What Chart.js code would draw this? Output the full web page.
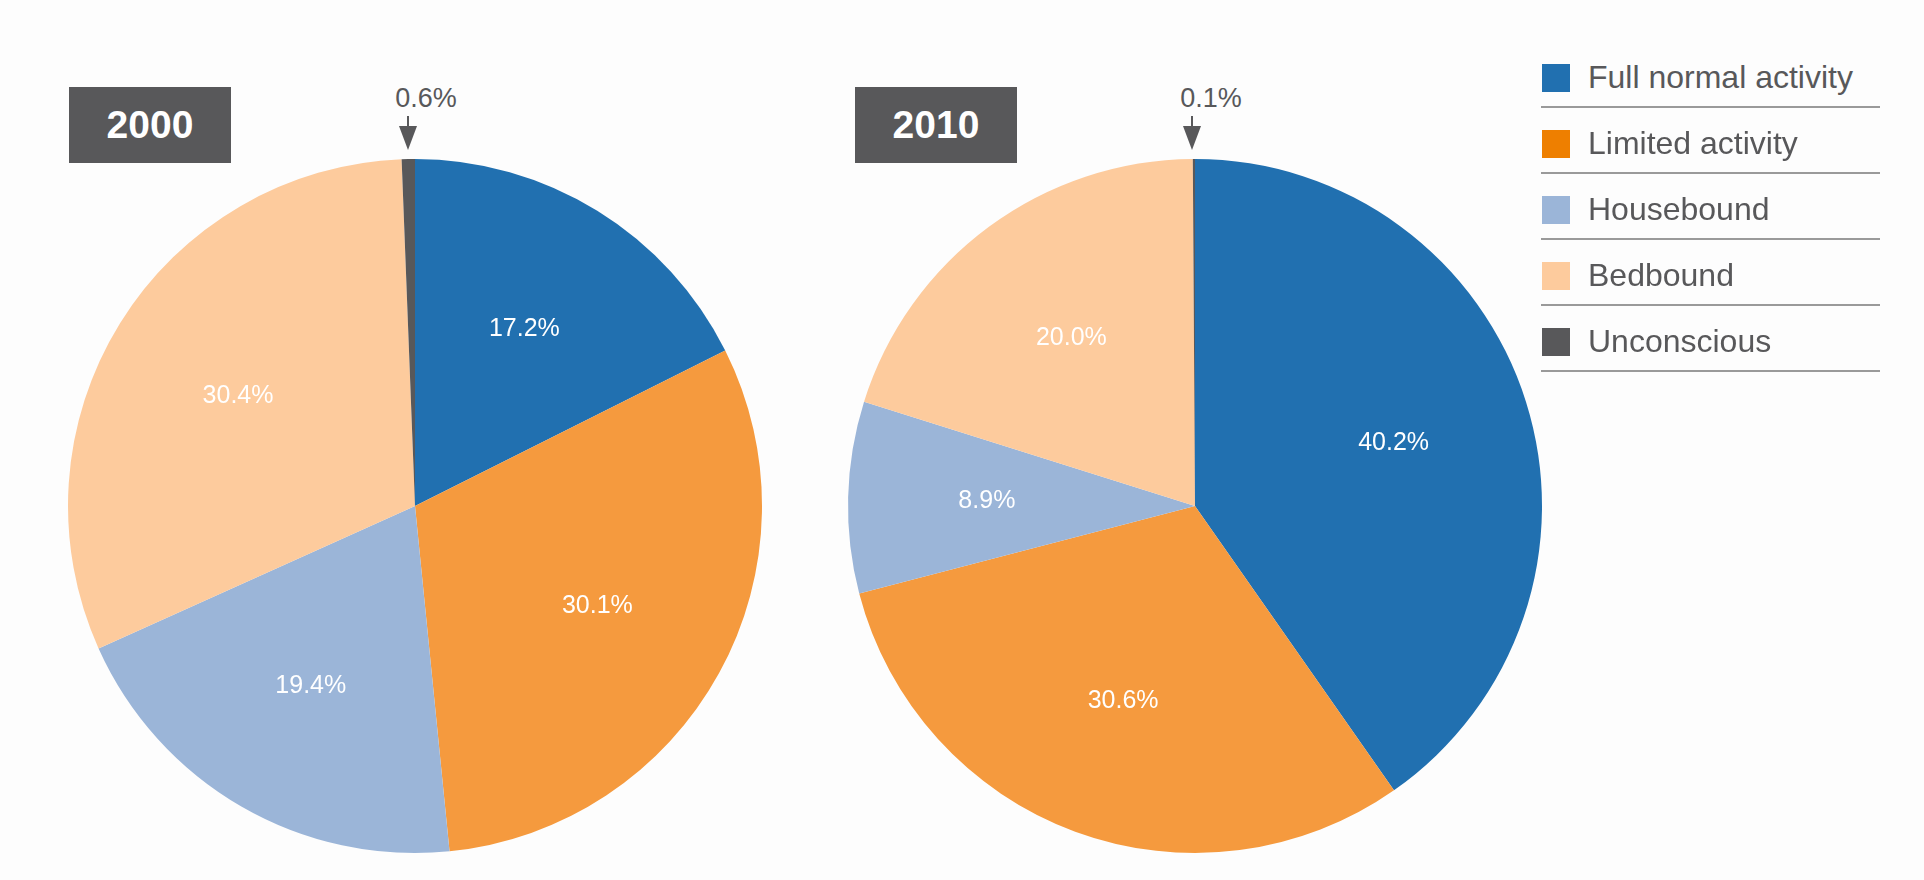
<!DOCTYPE html>
<html><head><meta charset="utf-8">
<script src="https://cdn.jsdelivr.net/npm/chart.js@4.4.0/dist/chart.umd.min.js"></script>
<style>
body{margin:0;background:#fdfdfd;width:1924px;height:880px;position:relative;overflow:hidden;font-family:"Liberation Sans",Arial,sans-serif;color:#58585a}
canvas{position:absolute}
.yr{position:absolute;top:87px;width:162px;height:76px;background:#58585a;color:#fff;font-weight:bold;font-size:39px;line-height:76px;text-align:center}
.small{position:absolute;font-size:27px;transform:translateX(-50%);top:83px}
.arrow{position:absolute;width:0;height:0;border-left:9px solid transparent;border-right:9px solid transparent;border-top:24px solid #58585a;top:126px}
.stem{position:absolute;width:2px;background:#58585a;top:116px;height:12px}
.leg{position:absolute;left:1541px;width:339px;height:66px;border-bottom:2px solid #9a9a9a}
.leg span.sq{position:absolute;left:1px;top:24px;width:28px;height:28px}
.leg span.t{position:absolute;left:47px;top:19px;font-size:32px}
</style></head><body>
<div class="yr" style="left:69px">2000</div>
<div class="yr" style="left:855px">2010</div>
<div class="small" style="left:426px">0.6%</div>
<div class="stem" style="left:407px"></div><div class="arrow" style="left:399px"></div>
<div class="small" style="left:1211px">0.1%</div>
<div class="stem" style="left:1191px"></div><div class="arrow" style="left:1183px"></div>
<canvas id="c1" width="700" height="700" style="left:65px;top:156px"></canvas>
<canvas id="c2" width="700" height="700" style="left:845px;top:156px"></canvas>
<div id="legend"></div>
<script>
const categories=["Full normal activity","Limited activity","Housebound","Bedbound","Unconscious"];
const values2000=[17.2,30.1,19.4,30.4,0.6];
const values2010=[40.2,30.6,8.9,20.0,0.1];
const sliceColors=["#2170b0","#f59a3e","#9bb5d8","#fdcb9d","#58585a"];
const legendColors=["#2170b0","#ee7f00","#9bb5d8","#fdcb9d","#58585a"];
const lg=document.getElementById('legend');
categories.forEach((c,i)=>{const d=document.createElement('div');d.className='leg';d.style.top=(40+i*66)+'px';
d.innerHTML='<span class="sq" style="background:'+legendColors[i]+'"></span><span class="t">'+c+'</span>';lg.appendChild(d);});
const labelPlugin={id:'lbl',afterDatasetsDraw(chart){const ctx=chart.ctx;const meta=chart.getDatasetMeta(0);const vals=chart.data.datasets[0].data;
ctx.save();ctx.fillStyle='#fff';ctx.font='25px "Liberation Sans", Arial';ctx.textAlign='center';ctx.textBaseline='middle';
meta.data.forEach((a,i)=>{if(vals[i]<1)return;const m=(a.startAngle+a.endAngle)/2;const r=a.outerRadius*0.6;
ctx.fillText(vals[i].toFixed(1)+'%',a.x+Math.cos(m)*r,a.y+Math.sin(m)*r);});ctx.restore();}};
function make(id,vals){new Chart(document.getElementById(id),{type:'pie',data:{labels:categories,datasets:[{data:vals,backgroundColor:sliceColors,borderWidth:0}]},
options:{responsive:false,animation:false,layout:{padding:3},plugins:{legend:{display:false},tooltip:{enabled:false}}},plugins:[labelPlugin]});}
make('c1',values2000);make('c2',values2010);
</script></body></html>
